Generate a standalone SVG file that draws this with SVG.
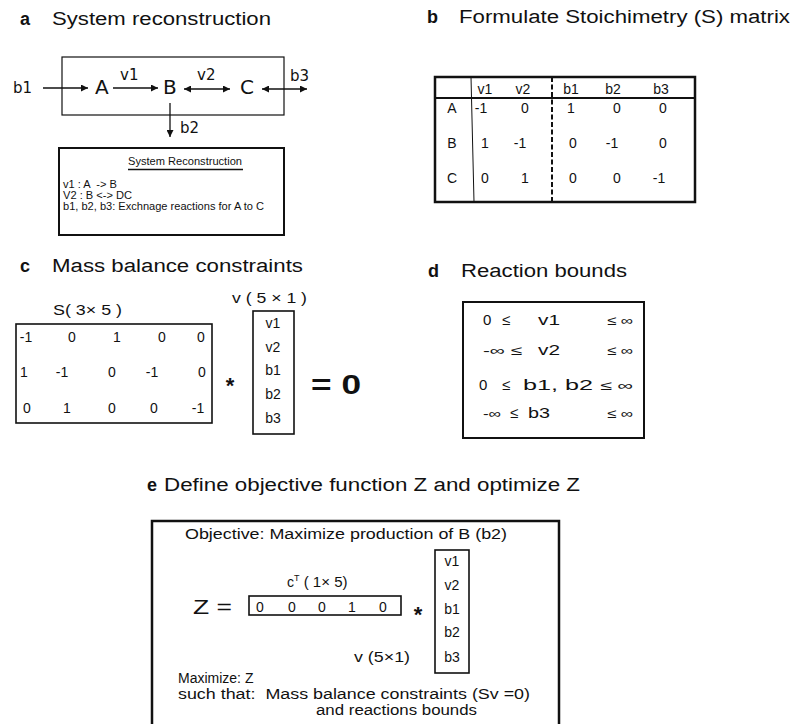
<svg xmlns="http://www.w3.org/2000/svg" width="793" height="724" viewBox="0 0 793 724">
<defs>
<style>
.t{font-family:"Liberation Sans",Arial,sans-serif;fill:#111}
.d{font-family:"DejaVu Sans",sans-serif;fill:#111}
.h{font-size:18px}
.lb{font-size:18px;font-weight:bold}
.box{fill:none;stroke:#111}
.ln{stroke:#111;stroke-width:1.3;fill:none}
.m{text-anchor:middle}
</style>
<marker id="ah" viewBox="0 0 10 10" refX="10" refY="5" markerWidth="9" markerHeight="7" markerUnits="userSpaceOnUse" orient="auto-start-reverse">
<path d="M0,0 L10,5 L0,10 z" fill="#111"/>
</marker>
</defs>
<rect width="793" height="724" fill="#fff"/>

<!-- Panel a -->
<g id="panel-a">
<text class="t lb" x="20" y="25">a</text>
<text class="t h" x="52" y="25" textLength="219" lengthAdjust="spacingAndGlyphs">System reconstruction</text>
<rect class="box" x="62" y="57" width="222" height="58" stroke-width="1.2"/>
</g>
<g id="node-b1"><text class="d" x="13" y="93" font-size="15">b1</text></g>
<g id="node-A"><text class="d" x="95" y="94" font-size="20">A</text></g>
<g id="node-B"><text class="d" x="163" y="94" font-size="20">B</text></g>
<g id="node-C"><text class="d" x="240" y="94" font-size="20">C</text></g>
<g id="connectors">
<line class="ln" x1="43" y1="88" x2="88" y2="88" marker-end="url(#ah)"/>
<line class="ln" x1="113" y1="88" x2="158" y2="88" marker-end="url(#ah)"/>
<line class="ln" x1="184" y1="89" x2="230" y2="89" marker-start="url(#ah)" marker-end="url(#ah)"/>
<line class="ln" x1="262" y1="89" x2="307" y2="89" marker-start="url(#ah)" marker-end="url(#ah)"/>
<line class="ln" x1="170" y1="103" x2="170" y2="137" marker-end="url(#ah)"/>
<text class="d" x="120" y="80" font-size="15">v1</text>
<text class="d" x="197" y="80" font-size="15">v2</text>
<text class="d" x="290" y="81" font-size="15">b3</text>
<text class="d" x="180" y="133" font-size="15">b2</text>
</g>
<g id="legend-a">
<rect class="box" x="59" y="148" width="225" height="87" stroke-width="2"/>
<text class="t" x="128" y="165" font-size="11" textLength="114" lengthAdjust="spacingAndGlyphs">System Reconstruction</text>
<line x1="128" y1="169.5" x2="243" y2="169.5" stroke="#111" stroke-width="1.5"/>
<text class="t" x="63" y="188" font-size="11" xml:space="preserve" textLength="54" lengthAdjust="spacingAndGlyphs">v1 : A  -&gt; B</text>
<text class="t" x="63" y="199" font-size="11" textLength="69" lengthAdjust="spacingAndGlyphs">V2 : B &lt;-&gt; DC</text>
<text class="t" x="63" y="210" font-size="11" textLength="201" lengthAdjust="spacingAndGlyphs">b1, b2, b3: Exchnage reactions for A to C</text>
</g>

<!-- Panel b -->
<g id="panel-b">
<text class="t lb" x="427" y="23">b</text>
<text class="t h" x="459" y="23" textLength="331" lengthAdjust="spacingAndGlyphs">Formulate Stoichimetry (S) matrix</text>
<rect class="box" x="435" y="77" width="260" height="125" stroke-width="2.5"/>
<line x1="435" y1="98" x2="695" y2="98" stroke="#111" stroke-width="2"/>
<line x1="471" y1="77" x2="474" y2="202" stroke="#111" stroke-width="1"/>
<line x1="552" y1="77" x2="552" y2="202" stroke="#111" stroke-width="2" stroke-dasharray="5,2.5"/>
<g class="t m" font-size="14">
<text x="485" y="94">v1</text><text x="523" y="94">v2</text><text x="571" y="94">b1</text><text x="613" y="94">b2</text><text x="661" y="94">b3</text>
<text x="452" y="113">A</text><text x="481" y="113">-1</text><text x="525" y="113">0</text><text x="571" y="113">1</text><text x="617" y="113">0</text><text x="663" y="113">0</text>
<text x="452" y="148">B</text><text x="485" y="148">1</text><text x="520" y="148">-1</text><text x="573" y="148">0</text><text x="612" y="148">-1</text><text x="663" y="148">0</text>
<text x="452" y="183">C</text><text x="485" y="183">0</text><text x="525" y="183">1</text><text x="573" y="183">0</text><text x="617" y="183">0</text><text x="659" y="183">-1</text>
</g>
</g>

<!-- Panel c -->
<g id="panel-c">
<text class="t lb" x="20" y="272">c</text>
<text class="t h" x="52" y="272" textLength="251" lengthAdjust="spacingAndGlyphs">Mass balance constraints</text>
<text class="t" x="53" y="315" font-size="14" textLength="69" lengthAdjust="spacingAndGlyphs">S( 3× 5 )</text>
<rect class="box" x="16" y="324" width="196" height="99" stroke-width="1.6"/>
<g class="t m" font-size="14">
<text x="26" y="342">-1</text><text x="72" y="342">0</text><text x="117" y="342">1</text><text x="162" y="342">0</text><text x="201" y="342">0</text>
<text x="24" y="377">1</text><text x="62" y="377">-1</text><text x="112" y="377">0</text><text x="152" y="377">-1</text><text x="202" y="377">0</text>
<text x="27" y="413">0</text><text x="67" y="413">1</text><text x="112" y="413">0</text><text x="154" y="413">0</text><text x="198" y="413">-1</text>
</g>
<text class="t" x="232" y="303" font-size="14" textLength="75" lengthAdjust="spacingAndGlyphs">v ( 5 × 1 )</text>
<rect class="box" x="253" y="311" width="41" height="123" stroke-width="1.6"/>
<g class="t m" font-size="14">
<text x="273" y="328">v1</text><text x="273" y="352">v2</text><text x="273" y="375">b1</text><text x="273" y="399">b2</text><text x="273" y="423">b3</text>
</g>
<text class="t m" x="230" y="393" font-size="22" font-weight="bold">*</text>
<text class="t" x="311" y="394" font-size="27" font-weight="bold" textLength="50" lengthAdjust="spacingAndGlyphs">= 0</text>
</g>

<!-- Panel d -->
<g id="panel-d">
<text class="t lb" x="428" y="277">d</text>
<text class="t h" x="461" y="277" textLength="166" lengthAdjust="spacingAndGlyphs">Reaction bounds</text>
<rect class="box" x="463" y="302" width="181" height="136" stroke-width="2"/>
<g class="t" font-size="15">
<text x="483" y="325">0</text><text x="502" y="325">≤</text><text x="538" y="325" textLength="22" lengthAdjust="spacingAndGlyphs">v1</text><text x="607" y="325" font-size="13" textLength="26" lengthAdjust="spacingAndGlyphs">≤ ∞</text>
<text x="483" y="355" font-size="13" textLength="39" lengthAdjust="spacingAndGlyphs">-∞ ≤</text><text x="538" y="355" textLength="22" lengthAdjust="spacingAndGlyphs">v2</text><text x="607" y="355" font-size="13" textLength="26" lengthAdjust="spacingAndGlyphs">≤ ∞</text>
<text x="479" y="390">0</text><text x="502" y="390">≤</text><text x="523" y="390" textLength="70" lengthAdjust="spacingAndGlyphs">b1, b2</text><text x="600" y="390" font-size="13" textLength="33" lengthAdjust="spacingAndGlyphs">≤ ∞</text>
<text x="483" y="418" font-size="13" textLength="18" lengthAdjust="spacingAndGlyphs">-∞</text><text x="510" y="418">≤</text><text x="528" y="418" textLength="22" lengthAdjust="spacingAndGlyphs">b3</text><text x="607" y="418" font-size="13" textLength="26" lengthAdjust="spacingAndGlyphs">≤ ∞</text>
</g>
</g>

<!-- Panel e -->
<g id="panel-e">
<text class="t lb" x="147" y="491">e</text>
<text class="t h" x="164" y="491" textLength="416" lengthAdjust="spacingAndGlyphs">Define objective function Z and optimize Z</text>
<rect class="box" x="152" y="521" width="407" height="230" stroke-width="2.5"/>
<text class="t" x="185" y="539" font-size="14" textLength="322" lengthAdjust="spacingAndGlyphs">Objective: Maximize production of B (b2)</text>
<rect class="box" x="435" y="550" width="34" height="123" stroke-width="1.6"/>
<g class="t m" font-size="14">
<text x="452" y="566">v1</text><text x="452" y="590">v2</text><text x="452" y="614">b1</text><text x="452" y="637">b2</text><text x="452" y="662">b3</text>
</g>
<text class="t" x="287" y="587" font-size="14">c<tspan font-size="9" dy="-6">T</tspan><tspan dy="6" textLength="48" lengthAdjust="spacingAndGlyphs"> ( 1× 5)</tspan></text>
<text class="t" x="193" y="614" font-size="21" textLength="39" lengthAdjust="spacingAndGlyphs">Z =</text>
<rect class="box" x="249" y="596" width="152" height="19" stroke-width="1.6"/>
<g class="t m" font-size="14">
<text x="260" y="612">0</text><text x="292" y="612">0</text><text x="322" y="612">0</text><text x="352" y="612">1</text><text x="383" y="612">0</text>
</g>
<text class="t m" x="418" y="622" font-size="22" font-weight="bold">*</text>
<text class="t" x="354" y="662" font-size="14" textLength="56" lengthAdjust="spacingAndGlyphs">v (5×1)</text>
<text class="t" x="178" y="683" font-size="14">Maximize: Z</text>
<text class="t" x="178" y="699" font-size="14" textLength="352" lengthAdjust="spacingAndGlyphs" xml:space="preserve">such that:  Mass balance constraints (Sv =0)</text>
<text class="t" x="316" y="715" font-size="14" textLength="161" lengthAdjust="spacingAndGlyphs">and reactions bounds</text>
</g>
</svg>
